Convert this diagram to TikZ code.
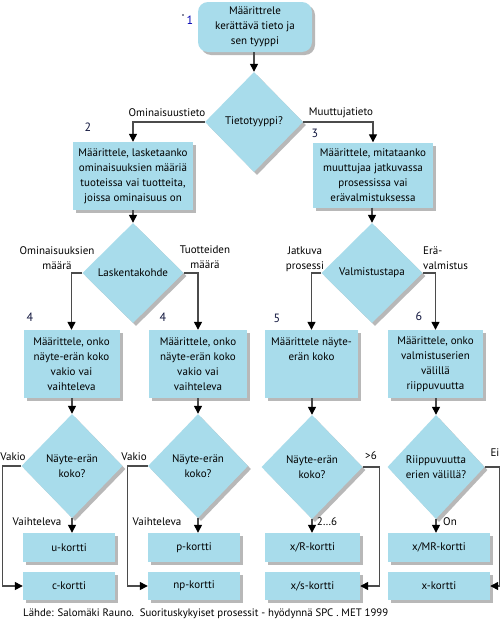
\documentclass[tikz,border=0pt]{standalone}
\usepackage{fontspec}
\setmainfont{PT Sans}
\usetikzlibrary{shapes.geometric,shadows,arrows.meta}
\definecolor{boxblue}{RGB}{168,220,235}
\definecolor{linegray}{RGB}{75,75,75}
\definecolor{numblue}{RGB}{15,20,60}
\begin{document}
\begin{tikzpicture}[x=1pt,y=-1pt,
  every node/.style={font=\fontsize{11}{15}\selectfont, inner sep=0pt},
  shade/.style={drop shadow={shadow xshift=3pt,shadow yshift=-3pt,fill=black,opacity=0.28}},
  box/.style={fill=boxblue, shade, align=center, minimum height=68pt},
  kbox/.style={fill=boxblue, shade, align=center, minimum height=29pt},
  dec/.style={diamond, fill=boxblue, shade, align=center, minimum width=100pt, minimum height=100pt},
  arr/.style={draw=linegray, line width=1.3pt, -{Triangle[length=8pt,width=8pt,color=black]}},
  lbl/.style={align=center},
  num/.style={font=\fontsize{12}{14}\selectfont, text=numblue}
]
\useasboundingbox (0,0) rectangle (502,621);
\fill[white] (0,0) rectangle (502,621);

% start
\node[fill=boxblue, shade, rounded corners=10pt, align=center, minimum width=114pt, minimum height=50pt] (b1) at (255,27) {Määrittrele\\kerättävä tieto ja\\sen tyyppi};
\node[num, text=blue!70!black] (n1) at (190,20) {1};
\fill[numblue] (183,15) circle (0.8pt);

% first decision
\node[dec, minimum width=98pt] (d1) at (254,122) {Tietotyyppi?};
\node[box, minimum width=120pt] (b2) at (133,176) {Määrittele, lasketaanko\\ominaisuuksien määriä\\tuoteissa vai tuotteita,\\joissa ominaisuus on};
\node[box, minimum width=120pt, minimum height=65pt] (b3) at (373,175) {Määrittele, mitataanko\\muuttujaa jatkuvassa\\prosessissa vai\\erävalmistuksessa};
\node[lbl] (l1) at (167,113) {Ominaisuustieto};
\node[lbl] (l2) at (341,113) {Muuttujatieto};
\node[num] (n2) at (88,127) {2};
\node[num] (n3) at (315,133) {3};

% second level decisions
\node[dec, minimum width=101pt] (d2) at (133,273) {Laskentakohde};
\node[dec, minimum width=101pt] (d3) at (372,273) {Valmistustapa};
\node[lbl] (l3) at (57,258) {Ominaisuuksien\\määrä};
\node[lbl] (l4) at (205,257) {Tuotteiden\\määrä};
\node[lbl] (l5) at (305,259) {Jatkuva\\prosessi};
\node[lbl, align=left, anchor=west] (l6) at (423,258) {Erä-\\valmistus};

% third level boxes
\node[box, minimum width=96pt] (b4a) at (71.5,364) {Määrittele, onko\\näyte-erän koko\\vakio vai\\vaihteleva};
\node[box, minimum width=98pt] (b4b) at (198,364) {Määrittele, onko\\näyte-erän koko\\vakio vai\\vaihteleva};
\node[box, minimum width=93pt] (b5) at (311.5,364) {Määrittele näyte-\\erän koko\\\mbox{}\\\mbox{}};
\node[box, minimum width=95pt] (b6) at (435.5,364) {Määrittele, onko\\valmistuserien\\välillä\\riippuvuutta};
\node[num] (n4a) at (30,317) {4};
\node[num] (n4b) at (163,317) {4};
\node[num] (n5) at (277,318) {5};
\node[num] (n6) at (419,316) {6};

% fourth level decisions
\node[dec, minimum width=101pt, minimum height=104pt] (d4a) at (72,466) {Näyte-erän\\koko?};
\node[dec, minimum width=100pt, minimum height=104pt] (d4b) at (198,466) {Näyte-erän\\koko?};
\node[dec, minimum width=101pt, minimum height=104pt] (d5) at (312,467) {Näyte-erän\\koko?};
\node[dec, minimum width=97pt, minimum height=104pt] (d6) at (436,467) {Riippuvuutta\\erien välillä?};

% charts
\node[kbox, minimum width=92pt] (u) at (69,547.5) {u-kortti};
\node[kbox, minimum width=92pt, minimum height=28pt] (c) at (69,586) {c-kortti};
\node[kbox, minimum width=92pt] (p) at (194,547.5) {p-kortti};
\node[kbox, minimum width=92pt, minimum height=28pt] (np) at (194,586) {np-kortti};
\node[kbox, minimum width=95pt] (xr) at (312.5,547.5) {x/R-kortti};
\node[kbox, minimum width=95pt, minimum height=28pt] (xs) at (312.5,586) {x/s-kortti};
\node[kbox, minimum width=102pt] (xmr) at (439,547.5) {x/MR-kortti};
\node[kbox, minimum width=102pt, minimum height=28pt] (xk) at (439,586) {x-kortti};

% labels bottom
\node[lbl] (v1) at (13,457) {Vakio};
\node[lbl] (v2) at (134,457) {Vakio};
\node[lbl] (h1) at (37,522) {Vaihteleva};
\node[lbl] (h2) at (157,522) {Vaihteleva};
\node[lbl] (g6) at (371,456) {>6};
\node[lbl] (s26) at (327,522) {2…6};
\node[lbl] (ei) at (495,453) {Ei};
\node[lbl] (on) at (450,522) {On};

\node[font=\fontsize{10.8}{12}\selectfont, anchor=west] (src) at (23,614) {Lähde: Salomäki Rauno.\ \ Suorituskykyiset prosessit - hyödynnä SPC . MET 1999};

% connectors
\draw[arr] (d1.north |- b1.south) -- (d1.north);
\draw[arr] (d1.west) -| (b2.north);
\draw[arr] (d1.east) -| (b3.north);
\draw[arr] (b2.south) -- (d2.north);
\draw[arr] (b3.south -| d3.north) -- (d3.north);
\draw[arr] (d2.west) -| (b4a.north);
\draw[arr] (d2.east) -| (b4b.north);
\draw[arr] (d3.west) -| (b5.north);
\draw[arr] (d3.east) -| (b6.north);
\draw[arr] (b4a.south -| d4a.north) -- (d4a.north);
\draw[arr] (b4b.south) -- (d4b.north);
\draw[arr] (b5.south -| d5.north) -- (d5.north);
\draw[arr] (b6.south -| d6.north) -- (d6.north);
\draw[arr] (d4a.south) -- (d4a.south |- u.north);
\draw[arr] (d4b.south) -- (d4b.south |- p.north);
\draw[arr] (d5.south) -- (d5.south |- xr.north);
\draw[arr] (d6.south) -- (d6.south |- xmr.north);
\draw[arr] (d4a.west) -- ++(-19,0) |- (c.west);
\draw[arr] (d4b.west) -- ++(-20,0) |- (np.west);
\draw[arr] (d5.east) -- ++(17,0) |- (xs.east);
\draw[arr] (d6.east) -- ++(15,0) |- (xk.east);
\end{tikzpicture}
\end{document}
